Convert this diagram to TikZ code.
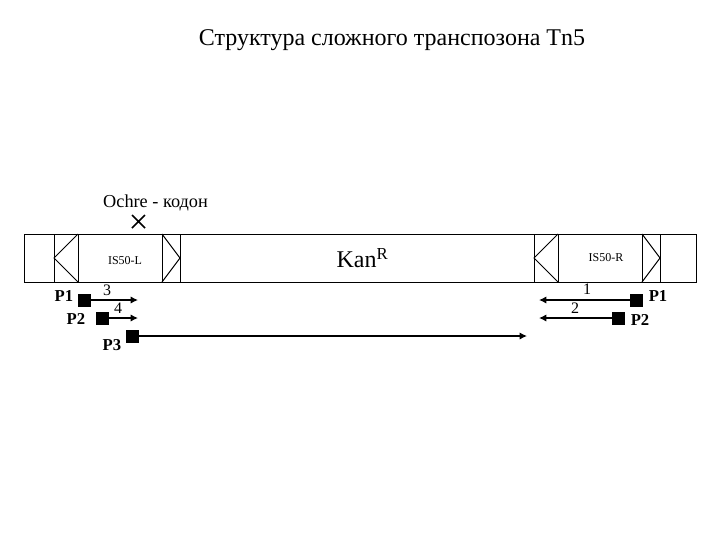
\documentclass[tikz,border=0pt]{standalone}
\usepackage{fontspec}
\setmainfont{Liberation Serif}
\usetikzlibrary{arrows.meta}
\begin{document}
\begin{tikzpicture}[x=0.75pt,y=-0.75pt,
  thinline/.style={draw=black,line width=0.75pt},
  sq/.style={fill=black,draw=none,minimum size=9.75pt,inner sep=0pt,outer sep=0pt},
  arr/.style={draw=black,line width=1pt,-{Latex[length=5.5pt,width=5.5pt]}},
  lab/.style={inner sep=0pt,text=black},
  plab/.style={inner sep=0pt,font=\fontsize{12.5}{14}\selectfont\bfseries},
  num/.style={inner sep=0pt,font=\fontsize{12}{14}\selectfont}]
\useasboundingbox (0,0) rectangle (720,540);
\fill[white] (0,0) rectangle (720,540);
\node[lab,font=\fontsize{18}{22}\selectfont] (title) at (392,40) {Структура сложного транспозона Tn5};
\node[lab,font=\fontsize{13.7}{16}\selectfont] (och) at (155.5,202.5) {Ochre - кодон};
\draw[line width=1.3pt] (132,215) -- (145,228) (145,215) -- (132,228);
\draw[thinline] (24,234) rectangle (696,282);
\foreach \a/\b/\c/\d in {54/78/54/78,162/180/180/162,534/558/534/558,642/660/660/642}{
  \draw[thinline] (\a,234) -- (\a,282) (\b,234) -- (\b,282);
  \draw[thinline] (\d,234) -- (\c,258) -- (\d,282);
}
\node[lab,font=\fontsize{9}{11}\selectfont] (isl) at (125,261) {IS50-L};
\node[lab,font=\fontsize{9}{11}\selectfont] (isr) at (606,258) {IS50-R};
\node[lab,font=\fontsize{18}{22}\selectfont] (kan) at (362.5,258) {Kan\textsuperscript{R}};
\node[sq] (s1) at (84.5,300.5) {};
\node[sq] (s2) at (102.5,318.5) {};
\node[sq] (s3) at (132.5,336.5) {};
\node[sq] (s4) at (636.5,300.5) {};
\node[sq] (s5) at (618.5,318.5) {};
\coordinate (e1) at (138,300);
\coordinate (e2) at (138,318);
\coordinate (e3) at (527,336);
\coordinate (e4) at (539,300);
\coordinate (e5) at (539,318);
\draw[arr] (s1.east |- e1) -- (e1);
\draw[arr] (s2.east |- e2) -- (e2);
\draw[arr,line width=1.5pt] (s3.east |- e3) -- (e3);
\draw[arr] (s4.west |- e4) -- (e4);
\draw[arr] (s5.west |- e5) -- (e5);
\node[plab] at (64,296) {P1};
\node[plab] at (76,319) {P2};
\node[plab] at (112,345) {P3};
\node[plab] at (658,296) {P1};
\node[plab] at (640,320) {P2};
\node[num] at (107,290) {3};
\node[num] at (118,308) {4};
\node[num] at (587,289) {1};
\node[num] at (575,308) {2};
\end{tikzpicture}
\end{document}
